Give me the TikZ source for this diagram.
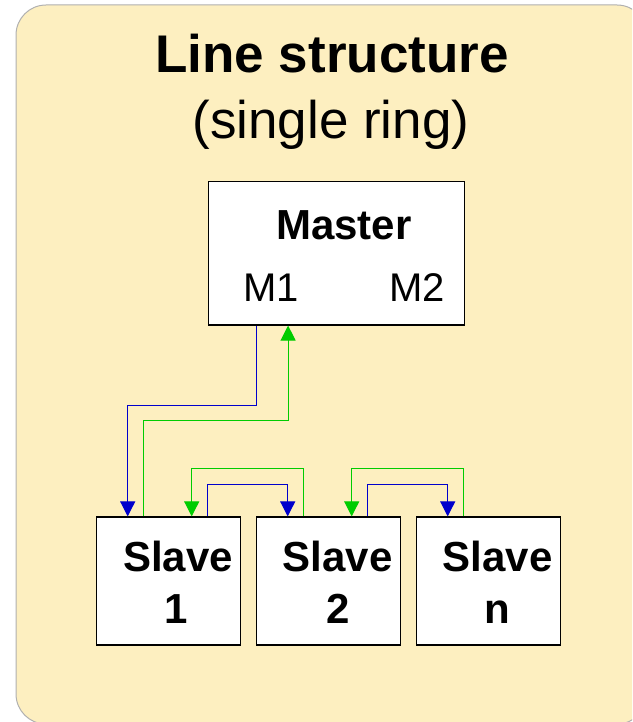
\documentclass[tikz,border=0pt]{standalone}
\usepackage{fontspec}
\setmainfont{Liberation Sans}
\usetikzlibrary{arrows.meta}
\definecolor{bgfill}{HTML}{FDEFC0}
\definecolor{bgline}{HTML}{B0B0B0}
\definecolor{lnblue}{HTML}{0000CC}
\definecolor{lngreen}{HTML}{00CC00}
\tikzset{
  box/.style={draw=black, fill=white, line width=1.2pt, inner sep=0pt, rectangle},
  txt/.style={anchor=base, inner sep=0pt},
  title/.style={txt, font=\fontsize{53}{60}\selectfont},
  bigb/.style={txt, font=\fontsize{42}{48}\selectfont\bfseries},
  port/.style={txt, font=\fontsize{40}{46}\selectfont},
  bluel/.style={color=lnblue, line width=1.1pt},
  greenl/.style={color=lngreen, line width=1.1pt},
  tipb/.style={-{Triangle[length=15pt,width=15pt]}},
  tipg/.style={-{Triangle[length=15pt,width=15pt]}}
}
\begin{document}
\begin{tikzpicture}[x=1pt,y=-1pt]
\useasboundingbox (0,0) rectangle (632,722);
\clip (0,0) rectangle (632,722);
\draw[fill=bgfill, draw=bgline, line width=1pt, rounded corners=30pt] (16,5) rectangle (647,724);

\node[title, font=\fontsize{53}{60}\selectfont\bfseries] (t1) at (332,72.3) {Line structure};
\node[title] (t2) at (331,138.3) {(single ring)};

\node[box, minimum width=256pt, minimum height=143.3pt] (master) at (336.3,253.3) {};
\node[bigb] (mtxt) at (344,239.3) {Master};
\node[port] (m1) at (271,301.7) {M1};
\node[port] (m2) at (417,301.7) {M2};

\node[box, minimum width=144pt, minimum height=128pt] (s1) at (168.7,581) {};
\node[box, minimum width=144pt, minimum height=128pt] (s2) at (328.7,581) {};
\node[box, minimum width=144pt, minimum height=128pt] (sn) at (488.7,581) {};
\node[bigb] (s1a) at (178,571.7) {Slave};
\node[bigb] (s1b) at (176.5,623.3) {1};
\node[bigb] (s2a) at (337.8,571.7) {Slave};
\node[bigb] (s2b) at (337.8,623.3) {2};
\node[bigb] (sna) at (497.8,571.7) {Slave};
\node[bigb] (snb) at (497.5,623.3) {n};

% master <-> slave 1
\draw[bluel, tipb] ([xshift=49pt]master.south west) -- ++(0,80) -| ([xshift=31.6pt]s1.north west);
\draw[greenl, tipg] ([xshift=47.6pt]s1.north west) -- ++(0,-96) -| ([xshift=80.4pt]master.south west);

% slave 1 <-> slave 2
\draw[greenl, tipg] ([xshift=47.6pt]s2.north west) -- ++(0,-47.7) -| ([xshift=95.6pt]s1.north west);
\draw[bluel, tipb] ([xshift=111.6pt]s1.north west) -- ++(0,-32) -| ([xshift=31.6pt]s2.north west);

% slave 2 <-> slave n
\draw[greenl, tipg] ([xshift=47.6pt]sn.north west) -- ++(0,-47.7) -| ([xshift=95.6pt]s2.north west);
\draw[bluel, tipb] ([xshift=111.6pt]s2.north west) -- ++(0,-32) -| ([xshift=31.6pt]sn.north west);
\end{tikzpicture}
\end{document}
